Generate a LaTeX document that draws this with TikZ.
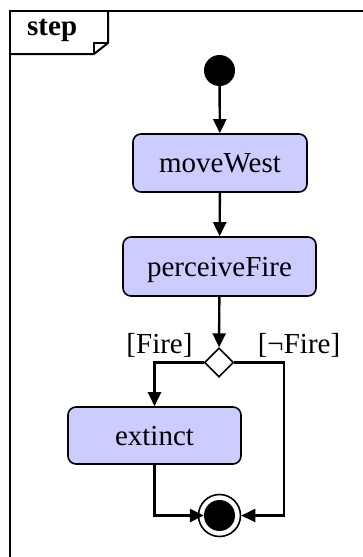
\documentclass[tikz,border=0pt]{standalone}
\usepackage{fontspec}
\setmainfont{Liberation Serif}
\usetikzlibrary{arrows.meta,shapes.geometric}
\definecolor{actfill}{RGB}{204,204,255}
\tikzset{
  act/.style={draw, line width=1.6pt, rounded corners=8pt, fill=actfill,
    inner sep=0pt, text height=19.5pt, text depth=0pt,
    font=\fontsize{29}{33}\selectfont},
  flow/.style={line width=2.4pt, -{Triangle[length=14pt,width=13pt]}},
  lbl/.style={font=\fontsize{29}{33}\selectfont, anchor=base, inner sep=0pt},
  frm/.style={line width=2pt},
}
\begin{document}
\begin{tikzpicture}[x=1pt,y=-1pt]
\useasboundingbox (0,0) rectangle (363,557);
% frame
\draw[frm] (9.5,557) -- (9.5,11) -- (363,11);
\draw[frm] (9.5,54) -- (94,54) -- (108,43) -- (108,11);
\draw[line width=1.6pt] (94,54) -- (94,43) -- (108,43);
\node[anchor=base west, inner sep=0pt, font=\bfseries\fontsize{29}{33}\selectfont] (title) at (27,35) {step};
% nodes
\node[circle, fill=black, minimum size=31pt, inner sep=0pt] (init) at (219.5,70.5) {};
\node[act, minimum width=174pt, minimum height=58pt] (mw) at (220,163) {moveWest};
\node[act, minimum width=193pt, minimum height=59pt] (pf) at (219.5,266.5) {perceiveFire};
\node[diamond, draw, fill=white, line width=1.6pt, minimum width=29pt, minimum height=29pt, inner sep=0pt, aspect=1] (dec) at (219,362.5) {};
\node[act, minimum width=173pt, minimum height=57pt] (ext) at (154.5,435.5) {extinct};
\node[circle, draw, fill=white, line width=1.6pt, minimum size=42pt, inner sep=0pt] (fin) at (219.5,515.5) {};
\node[circle, fill=black, minimum size=31pt, inner sep=0pt] (finin) at (fin) {};
% labels
\node[lbl] (lfire) at (159.5,353) {[Fire]};
\node[lbl] (lnfire) at (299,353) {[¬Fire]};
% connectors
\coordinate (rc) at (284,440);
\draw[flow] (init) -- (mw);
\draw[flow] (mw) -- (pf);
\draw[flow] (pf) -- (dec);
\draw[flow] (dec.west) -| (ext.north);
\draw[flow] (dec.east) -| (rc) |- (fin.east);
\draw[flow] (ext.south) |- (finin.west);
\end{tikzpicture}
\end{document}
